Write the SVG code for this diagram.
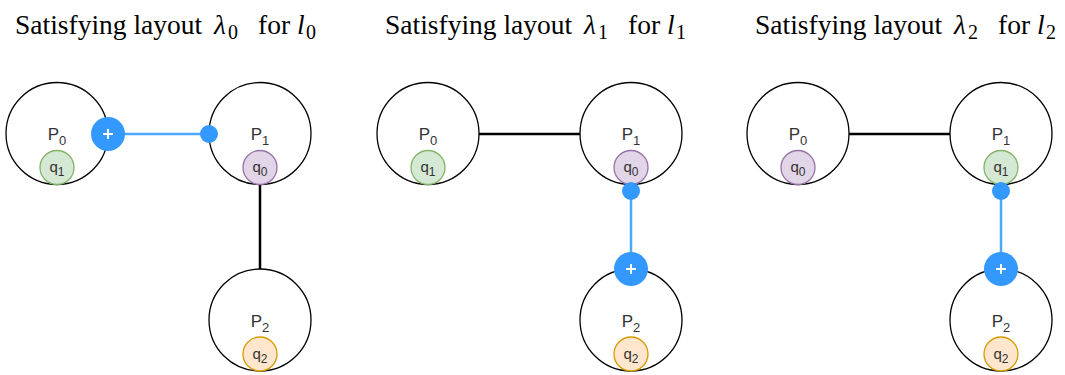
<svg xmlns="http://www.w3.org/2000/svg" width="1065" height="375" viewBox="0 0 1065 375">
<defs>
<style>
.title{font-family:"Liberation Serif","Times New Roman",serif;font-size:27.5px;fill:#000}
.mi{font-style:italic}
.sub{font-size:20px}
.p{fill:#fff;stroke:#000;stroke-width:1.3}
.plab{font-family:"Liberation Sans",Arial,sans-serif;font-size:17px;fill:#333;text-anchor:middle}
.qlab{font-family:"Liberation Sans",Arial,sans-serif;font-size:15px;fill:#333;text-anchor:middle}
.qg{fill:#d5e8d4;stroke:#82b366;stroke-width:1.3}
.qp{fill:#e1d5e7;stroke:#9673a6;stroke-width:1.3}
.qo{fill:#ffe6cc;stroke:#d79b00;stroke-width:1.3}
.blk{stroke:#000;stroke-width:2.5;fill:none}
.bl{stroke:#4da6ff;stroke-width:2.5;fill:none}
.bd{fill:#3399ff}
.plus{stroke:#fff;stroke-width:2;fill:none}
</style>
</defs>
<g id="titles">
<text class="title" x="15" y="34">Satisfying layout <tspan class="mi" x="214">λ</tspan><tspan class="sub" x="228" dy="5">0</tspan><tspan x="258" dy="-5">for</tspan><tspan class="mi" x="297">l</tspan><tspan class="sub" x="306" dy="5">0</tspan></text>
<text class="title" x="385" y="34">Satisfying layout <tspan class="mi" x="584">λ</tspan><tspan class="sub" x="598" dy="5">1</tspan><tspan x="628" dy="-5">for</tspan><tspan class="mi" x="667">l</tspan><tspan class="sub" x="676" dy="5">1</tspan></text>
<text class="title" x="755" y="34">Satisfying layout <tspan class="mi" x="954">λ</tspan><tspan class="sub" x="968" dy="5">2</tspan><tspan x="998" dy="-5">for</tspan><tspan class="mi" x="1037">l</tspan><tspan class="sub" x="1046" dy="5">2</tspan></text>
</g>
<g id="connectors">
<line class="blk" x1="260" y1="184.5" x2="260" y2="269"/>
<line class="blk" x1="479" y1="134" x2="580" y2="134"/>
<line class="blk" x1="849" y1="134" x2="950" y2="134"/>
</g>
<g id="p1-P0"><circle class="p" cx="57" cy="133.5" r="51"/><text class="plab" x="57" y="140">P<tspan font-size="13" dy="5">0</tspan></text><circle class="qg" cx="57" cy="167.5" r="17"/><text class="qlab" x="57" y="172">q<tspan font-size="12" dy="4">1</tspan></text></g>
<g id="p1-P1"><circle class="p" cx="260" cy="133.5" r="51"/><text class="plab" x="260" y="140">P<tspan font-size="13" dy="5">1</tspan></text><circle class="qp" cx="260" cy="167.5" r="17"/><text class="qlab" x="260" y="172">q<tspan font-size="12" dy="4">0</tspan></text></g>
<g id="p1-P2"><circle class="p" cx="260" cy="320" r="51"/><text class="plab" x="260" y="327">P<tspan font-size="13" dy="5">2</tspan></text><circle class="qo" cx="260" cy="354" r="17"/><text class="qlab" x="260" y="358.5">q<tspan font-size="12" dy="4">2</tspan></text></g>
<g id="p2-P0"><circle class="p" cx="428" cy="133.5" r="51"/><text class="plab" x="428" y="140">P<tspan font-size="13" dy="5">0</tspan></text><circle class="qg" cx="428" cy="167.5" r="17"/><text class="qlab" x="428" y="172">q<tspan font-size="12" dy="4">1</tspan></text></g>
<g id="p2-P1"><circle class="p" cx="631" cy="133.5" r="51"/><text class="plab" x="631" y="140">P<tspan font-size="13" dy="5">1</tspan></text><circle class="qp" cx="631" cy="167.5" r="17"/><text class="qlab" x="631" y="172">q<tspan font-size="12" dy="4">0</tspan></text></g>
<g id="p2-P2"><circle class="p" cx="631" cy="320" r="51"/><text class="plab" x="631" y="327">P<tspan font-size="13" dy="5">2</tspan></text><circle class="qo" cx="631" cy="354" r="17"/><text class="qlab" x="631" y="358.5">q<tspan font-size="12" dy="4">2</tspan></text></g>
<g id="p3-P0"><circle class="p" cx="798" cy="133.5" r="51"/><text class="plab" x="798" y="140">P<tspan font-size="13" dy="5">0</tspan></text><circle class="qp" cx="798" cy="167.5" r="17"/><text class="qlab" x="798" y="172">q<tspan font-size="12" dy="4">0</tspan></text></g>
<g id="p3-P1"><circle class="p" cx="1001" cy="133.5" r="51"/><text class="plab" x="1001" y="140">P<tspan font-size="13" dy="5">1</tspan></text><circle class="qg" cx="1001" cy="167.5" r="17"/><text class="qlab" x="1001" y="172">q<tspan font-size="12" dy="4">1</tspan></text></g>
<g id="p3-P2"><circle class="p" cx="1001" cy="320" r="51"/><text class="plab" x="1001" y="327">P<tspan font-size="13" dy="5">2</tspan></text><circle class="qo" cx="1001" cy="354" r="17"/><text class="qlab" x="1001" y="358.5">q<tspan font-size="12" dy="4">2</tspan></text></g>
<g id="selection">
<line class="bl" x1="108" y1="134" x2="209" y2="134"/>
<circle class="bd" cx="209" cy="134" r="9"/>
<circle class="bd" cx="108" cy="134" r="17"/>
<path class="plus" d="M103 134h10M108 129v10"/>
<line class="bl" x1="631" y1="191" x2="631" y2="269"/>
<circle class="bd" cx="631" cy="191" r="9"/>
<circle class="bd" cx="631" cy="269" r="17"/>
<path class="plus" d="M626 269h10M631 264v10"/>
<line class="bl" x1="1001" y1="191" x2="1001" y2="269"/>
<circle class="bd" cx="1001" cy="191" r="9"/>
<circle class="bd" cx="1001" cy="269" r="17"/>
<path class="plus" d="M996 269h10M1001 264v10"/>
</g>
</svg>
